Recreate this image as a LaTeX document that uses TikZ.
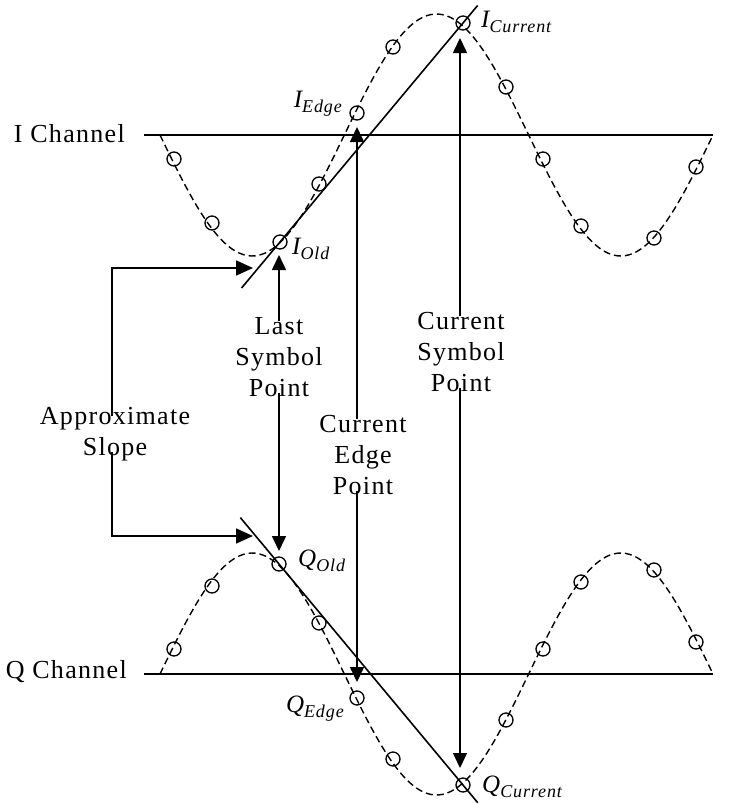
\documentclass[tikz,border=0pt]{standalone}
\usepackage{fontspec}
\setmainfont{Liberation Serif}[LetterSpace=5]
\usetikzlibrary{arrows.meta,calc}
\begin{document}
\begin{tikzpicture}[x=1pt,y=-1pt,
  axis/.style={line width=1.6pt},
  wave/.style={line width=1.4pt, dash pattern=on 7pt off 4pt},
  samp/.style={circle, draw, line width=1.3pt, minimum size=14pt, inner sep=0pt},
  conn/.style={line width=1.6pt},
  tipv/.style={-{Triangle[length=15pt,width=14pt]}},
  tiph/.style={-{Triangle[length=17pt,width=15pt]}},
  lbl/.style={align=center, font=\fontsize{26}{31}\selectfont, inner sep=0pt},
  sub/.style={font=\fontsize{25}{30}\selectfont\itshape, inner sep=0pt},
  subs/.style={font=\fontsize{18}{18}\selectfont\itshape}
]
\useasboundingbox (0,0) rectangle (730,804);

% channel labels and axes
\node[lbl, anchor=base east] (ich) at (125,142) {I Channel};
\node[lbl, anchor=base east] (qch) at (127,678) {Q Channel};
\coordinate (ia) at (144,135); \coordinate (ib) at (713,135);
\coordinate (qa) at (144,674); \coordinate (qb) at (713,674);
\draw[axis] (ia) -- (ib);
\draw[axis] (qa) -- (qb);

% waves
\draw[wave] plot[domain=160:713, samples=140, smooth] (\x, {135+121*sin(0.976483*(\x-160))});
\draw[wave] plot[domain=160:713, samples=140, smooth] (\x, {674-121*sin(0.976483*(\x-160))});

% sample circles
\foreach \n/\x/\y in {1/174/159, 2/212/223, 3/280/242, 4/319/184, 5/357/113, 6/393/47,
  7/463/23, 8/506/87, 9/543/159, 10/581/226, 11/654/238, 12/696/167}
  \node[samp] (i\n) at (\x,\y) {};
\foreach \n/\x/\y in {1/174/649, 2/212/586, 3/279/564, 4/319/623, 5/357/698, 6/393/759,
  7/463/785, 8/506/720, 9/543/649, 10/581/582, 11/654/570, 12/696/642}
  \node[samp] (q\n) at (\x,\y) {};

% slope lines
\draw[conn] ($(i3)!-0.21!(i7)$) -- ($(i3)!1.08!(i7)$);
\draw[conn] ($(q3)!-0.21!(q7)$) -- ($(q3)!1.08!(q7)$);

% point labels
\node[sub, anchor=west] (lic) at (481,22) {I\raisebox{-5pt}{\fontsize{18}{18}\selectfont Current}};
\node[sub, anchor=east] (lie) at (342,104) {I\raisebox{-5pt}{\fontsize{18}{18}\selectfont Edge}};
\node[sub, anchor=west] (lio) at (292,249) {I\raisebox{-5pt}{\fontsize{18}{18}\selectfont Old}};
\node[sub, anchor=west] (lqo) at (298,561) {Q\raisebox{-5pt}{\fontsize{18}{18}\selectfont Old}};
\node[sub, anchor=east] (lqe) at (344,709) {Q\raisebox{-5pt}{\fontsize{18}{18}\selectfont Edge}};
\node[sub, anchor=west] (lqc) at (482,787) {Q\raisebox{-5pt}{\fontsize{18}{18}\selectfont Current}};

% annotation labels
\node[lbl] (approx) at (115,434) {Approximate\\Slope};
\node[lbl] (last) at (279,357) {Last\\Symbol\\Point};
\node[lbl] (edge) at (363,455) {Current\\Edge\\Point};
\node[lbl] (sym) at (461,352) {Current\\Symbol\\Point};

% arrow end points
\coordinate (aI) at (253,268);
\coordinate (aQ) at (253,536);
\coordinate (lt) at (279,255);
\coordinate (lb) at (279,551);
\coordinate (et) at (357,127);
\coordinate (eb) at (357,682);
\coordinate (st) at (460,38);
\coordinate (sb) at (460,768);

\draw[conn,tiph] ([yshift=-9pt]approx.north -| 112,0) |- (aI);
\draw[conn,tiph] ([yshift=9pt]approx.south -| 112,0) |- (aQ);
\draw[conn,tipv] ([yshift=-4pt]last.north -| lt) -- (lt);
\draw[conn,tipv] ([yshift=4pt]last.south -| lb) -- (lb);
\draw[conn,tipv] ([yshift=-4pt]edge.north -| et) -- (et);
\draw[conn,tipv] ([yshift=4pt]edge.south -| eb) -- (eb);
\draw[conn,tipv] ([yshift=-4pt]sym.north -| st) -- (st);
\draw[conn,tipv] ([yshift=4pt]sym.south -| sb) -- (sb);
\end{tikzpicture}
\end{document}
